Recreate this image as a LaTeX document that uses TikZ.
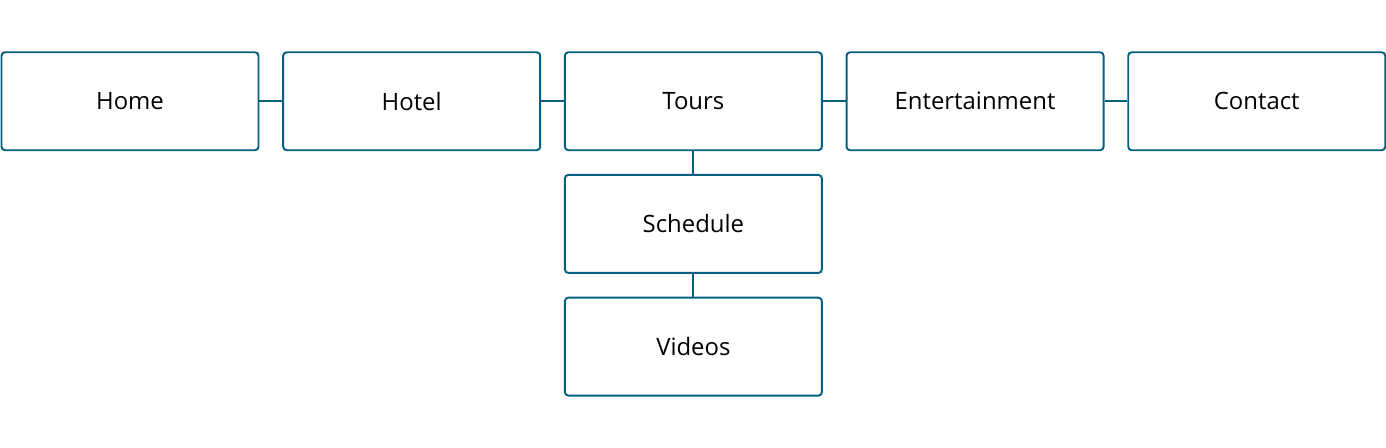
\documentclass[tikz,border=0pt]{standalone}
\usepackage{fontspec}
\setmainfont{Open Sans}
\usetikzlibrary{positioning}
\definecolor{sitemapblue}{RGB}{4, 96, 128}

\begin{document}
\begin{tikzpicture}[
  every node/.style={font=\fontsize{13.6}{16}\selectfont},
  page/.style={rectangle, rounded corners=2pt, draw=sitemapblue, line width=1.1pt,
               fill=white, minimum width=5.14cm, minimum height=1.96cm,
               inner sep=0pt, text centered},
  link/.style={draw=sitemapblue, line width=1.1pt},
  node distance=0.455cm and 0.455cm
]
\useasboundingbox (0,0) rectangle (27.72,8.96);

\node[page] (home) at (2.6,6.935) {Home};
\node[page, right=of home]  (hotel)  {Hotel};
\node[page, right=of hotel] (tours)  {Tours};
\node[page, right=of tours] (ent)    {Entertainment};
\node[page, right=of ent]   (contact){Contact};

\node[page, below=of tours]    (schedule) {Schedule};
\node[page, below=of schedule] (videos)   {Videos};

\draw[link] (home)  -- (hotel);
\draw[link] (hotel) -- (tours);
\draw[link] (tours) -- (ent);
\draw[link] (ent)   -- (contact);
\draw[link] (tours) -- (schedule);
\draw[link] (schedule) -- (videos);
\end{tikzpicture}
\end{document}
